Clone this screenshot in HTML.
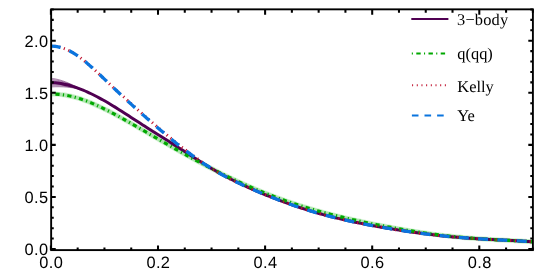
<!DOCTYPE html>
<html><head><meta charset="utf-8"><title>plot</title>
<style>html,body{margin:0;padding:0;background:#fff;overflow:hidden}svg{display:block}.sans{font-family:"Liberation Sans",sans-serif;font-size:16.4px;letter-spacing:0.4px;filter:grayscale(1);text-rendering:geometricPrecision}.serif{font-family:"Liberation Serif",serif;font-size:16.4px;filter:grayscale(1);text-rendering:geometricPrecision}</style>
</head><body>
<svg width="556" height="278" viewBox="0 0 556 278">
<rect width="556" height="278" fill="#fff"/>
<defs><clipPath id="c"><rect x="51.15" y="9.35" width="481.75" height="240.75"/></clipPath></defs>
<g clip-path="url(#c)" fill="none">
<path d="M51.10 78.33 C51.77 78.42 53.77 78.60 55.10 78.84 C56.43 79.07 57.77 79.39 59.10 79.75 C60.43 80.10 61.77 80.52 63.10 80.98 C64.43 81.44 65.77 81.94 67.10 82.48 C68.43 83.01 69.77 83.59 71.10 84.20 C72.43 84.80 73.77 85.43 75.10 86.08 C76.43 86.73 77.77 87.41 79.10 88.09 C80.43 88.76 81.77 89.48 83.10 90.12 C84.43 90.75 86.43 91.60 87.10 91.89" stroke="#500052" stroke-opacity="0.46" stroke-width="1.0"/>
<path d="M51.10 79.41 C51.77 79.48 53.77 79.63 55.10 79.83 C56.43 80.03 57.77 80.31 59.10 80.62 C60.43 80.94 61.77 81.31 63.10 81.72 C64.43 82.12 65.77 82.58 67.10 83.06 C68.43 83.55 69.77 84.07 71.10 84.62 C72.43 85.17 73.77 85.76 75.10 86.36 C76.43 86.95 77.77 87.59 79.10 88.22 C80.43 88.84 81.77 89.52 83.10 90.13 C84.43 90.75 86.43 91.60 87.10 91.89" stroke="#500052" stroke-opacity="0.46" stroke-width="1.0"/>
<path d="M51.10 80.48 C51.77 80.54 53.77 80.65 55.10 80.82 C56.43 80.99 57.77 81.23 59.10 81.50 C60.43 81.77 61.77 82.09 63.10 82.45 C64.43 82.81 65.77 83.21 67.10 83.65 C68.43 84.08 69.77 84.55 71.10 85.05 C72.43 85.55 73.77 86.08 75.10 86.63 C76.43 87.18 77.77 87.76 79.10 88.34 C80.43 88.93 81.77 89.56 83.10 90.15 C84.43 90.74 86.43 91.60 87.10 91.89" stroke="#500052" stroke-opacity="0.46" stroke-width="1.0"/>
<path d="M51.10 81.56 C51.77 81.60 53.77 81.68 55.10 81.81 C56.43 81.95 57.77 82.14 59.10 82.37 C60.43 82.60 61.77 82.88 63.10 83.19 C64.43 83.50 65.77 83.85 67.10 84.23 C68.43 84.61 69.77 85.03 71.10 85.48 C72.43 85.92 73.77 86.40 75.10 86.90 C76.43 87.40 77.77 87.93 79.10 88.47 C80.43 89.02 81.77 89.59 83.10 90.16 C84.43 90.73 86.43 91.61 87.10 91.89" stroke="#500052" stroke-opacity="0.46" stroke-width="1.0"/>
<path d="M51.10 82.63 C51.77 82.66 53.77 82.70 55.10 82.81 C56.43 82.91 57.77 83.06 59.10 83.25 C60.43 83.43 61.77 83.66 63.10 83.92 C64.43 84.19 65.77 84.49 67.10 84.82 C68.43 85.15 69.77 85.51 71.10 85.91 C72.43 86.30 73.77 86.72 75.10 87.17 C76.43 87.62 77.77 88.10 79.10 88.60 C80.43 89.10 81.77 89.63 83.10 90.18 C84.43 90.73 86.43 91.61 87.10 91.89" stroke="#500052" stroke-opacity="0.46" stroke-width="1.0"/>
<path d="M51.10 83.71 C51.77 83.72 53.77 83.73 55.10 83.80 C56.43 83.87 57.77 83.98 59.10 84.12 C60.43 84.26 61.77 84.45 63.10 84.66 C64.43 84.87 65.77 85.12 67.10 85.40 C68.43 85.68 69.77 85.99 71.10 86.33 C72.43 86.67 73.77 87.05 75.10 87.44 C76.43 87.84 77.77 88.27 79.10 88.73 C80.43 89.19 81.77 89.67 83.10 90.19 C84.43 90.72 86.43 91.61 87.10 91.89" stroke="#500052" stroke-opacity="0.46" stroke-width="1.0"/>
<path d="M51.10 84.78 C51.77 84.78 53.77 84.76 55.10 84.79 C56.43 84.83 57.77 84.89 59.10 84.99 C60.43 85.09 61.77 85.23 63.10 85.40 C64.43 85.56 65.77 85.76 67.10 85.99 C68.43 86.21 69.77 86.47 71.10 86.76 C72.43 87.05 73.77 87.37 75.10 87.72 C76.43 88.07 77.77 88.44 79.10 88.86 C80.43 89.27 81.77 89.70 83.10 90.21 C84.43 90.71 86.43 91.61 87.10 91.89" stroke="#500052" stroke-opacity="0.46" stroke-width="1.0"/>
<path d="M51.10 85.86 C51.77 85.84 53.77 85.78 55.10 85.78 C56.43 85.79 57.77 85.81 59.10 85.87 C60.43 85.93 61.77 86.01 63.10 86.13 C64.43 86.25 65.77 86.39 67.10 86.57 C68.43 86.75 69.77 86.95 71.10 87.19 C72.43 87.43 73.77 87.69 75.10 87.99 C76.43 88.29 77.77 88.61 79.10 88.99 C80.43 89.36 81.77 89.74 83.10 90.22 C84.43 90.71 86.43 91.62 87.10 91.89" stroke="#500052" stroke-opacity="0.46" stroke-width="1.0"/>
<path d="M51.10 86.93 C51.77 86.91 53.77 86.81 55.10 86.78 C56.43 86.75 57.77 86.73 59.10 86.74 C60.43 86.76 61.77 86.80 63.10 86.87 C64.43 86.94 65.77 87.03 67.10 87.16 C68.43 87.28 69.77 87.43 71.10 87.62 C72.43 87.80 73.77 88.01 75.10 88.26 C76.43 88.51 77.77 88.78 79.10 89.11 C80.43 89.44 81.77 89.78 83.10 90.24 C84.43 90.70 86.43 91.62 87.10 91.89" stroke="#500052" stroke-opacity="0.46" stroke-width="1.0"/>
<path d="M51.10 94.02 C51.77 94.03 53.77 94.04 55.10 94.10 C56.43 94.15 57.77 94.25 59.10 94.37 C60.43 94.49 61.77 94.64 63.10 94.83 C64.43 95.01 65.77 95.23 67.10 95.47 C68.43 95.72 69.77 96.00 71.10 96.30 C72.43 96.61 73.77 96.94 75.10 97.31 C76.43 97.67 77.77 98.06 79.10 98.48 C80.43 98.89 81.77 99.34 83.10 99.80 C84.43 100.27 85.77 100.76 87.10 101.27 C88.43 101.78 89.77 102.32 91.10 102.87 C92.43 103.43 93.77 104.00 95.10 104.59 C96.43 105.18 97.77 105.79 99.10 106.41 C100.43 107.03 101.77 107.67 103.10 108.32 C104.43 108.98 105.77 109.64 107.10 110.32 C108.43 110.99 109.77 111.68 111.10 112.38 C112.43 113.08 113.77 113.79 115.10 114.50 C116.43 115.22 117.77 115.94 119.10 116.67 C120.43 117.40 121.77 118.14 123.10 118.89 C124.43 119.63 125.77 120.38 127.10 121.13 C128.43 121.88 129.77 122.64 131.10 123.40 C132.43 124.16 133.77 124.93 135.10 125.70 C136.43 126.46 137.77 127.23 139.10 128.00 C140.43 128.77 141.77 129.54 143.10 130.32 C144.43 131.09 145.77 131.86 147.10 132.64 C148.43 133.41 149.77 134.18 151.10 134.96 C152.43 135.73 153.77 136.50 155.10 137.28 C156.43 138.05 157.77 138.82 159.10 139.59 C160.43 140.36 161.77 141.13 163.10 141.90 C164.43 142.66 165.77 143.43 167.10 144.20 C168.43 144.96 169.77 145.72 171.10 146.48 C172.43 147.24 173.77 148.00 175.10 148.76 C176.43 149.51 177.77 150.27 179.10 151.02 C180.43 151.77 181.77 152.51 183.10 153.26 C184.43 154.00 185.77 154.74 187.10 155.48 C188.43 156.22 189.77 156.95 191.10 157.68 C192.43 158.41 193.77 159.14 195.10 159.86 C196.43 160.58 197.77 161.30 199.10 162.02 C200.43 162.73 201.77 163.44 203.10 164.15 C204.43 164.85 205.77 165.55 207.10 166.25 C208.43 166.95 209.77 167.64 211.10 168.33 C212.43 169.01 213.77 169.69 215.10 170.37 C216.43 171.05 217.77 171.72 219.10 172.39 C220.43 173.05 221.77 173.72 223.10 174.37 C224.43 175.03 225.77 175.68 227.10 176.32 C228.43 176.97 229.77 177.61 231.10 178.24 C232.43 178.87 233.77 179.50 235.10 180.12 C236.43 180.75 237.77 181.36 239.10 181.97 C240.43 182.58 241.77 183.19 243.10 183.79 C244.43 184.38 245.77 184.98 247.10 185.56 C248.43 186.15 249.77 186.73 251.10 187.30 C252.43 187.88 253.77 188.44 255.10 189.01 C256.43 189.57 257.77 190.12 259.10 190.67 C260.43 191.22 261.77 191.76 263.10 192.30 C264.43 192.84 265.77 193.37 267.10 193.89 C268.43 194.41 269.77 194.93 271.10 195.44 C272.43 195.95 273.77 196.46 275.10 196.96 C276.43 197.46 277.77 197.95 279.10 198.44 C280.43 198.92 281.77 199.40 283.10 199.88 C284.43 200.35 285.77 200.82 287.10 201.28 C288.43 201.74 289.77 202.20 291.10 202.65 C292.43 203.10 293.77 203.54 295.10 203.98 C296.43 204.41 297.77 204.85 299.10 205.27 C300.43 205.70 301.77 206.12 303.10 206.53 C304.43 206.95 305.77 207.35 307.10 207.76 C308.43 208.16 309.77 208.56 311.10 208.95 C312.43 209.34 313.77 209.73 315.10 210.11 C316.43 210.49 317.77 210.87 319.10 211.24 C320.43 211.61 321.77 211.97 323.10 212.33 C324.43 212.69 325.77 213.05 327.10 213.40 C328.43 213.75 329.77 214.10 331.10 214.44 C332.43 214.78 333.77 215.12 335.10 215.45 C336.43 215.79 337.77 216.11 339.10 216.44 C340.43 216.76 341.77 217.09 343.10 217.40 C344.43 217.72 345.77 218.03 347.10 218.34 C348.43 218.65 349.77 218.96 351.10 219.26 C352.43 219.56 353.77 219.86 355.10 220.16 C356.43 220.45 357.77 220.75 359.10 221.04 C360.43 221.32 361.77 221.61 363.10 221.89 C364.43 222.18 365.77 222.46 367.10 222.73 C368.43 223.01 369.77 223.28 371.10 223.56 C372.43 223.83 373.77 224.10 375.10 224.36 C376.43 224.63 377.77 224.89 379.10 225.15 C380.43 225.41 381.77 225.67 383.10 225.92 C384.43 226.17 385.77 226.43 387.10 226.68 C388.43 226.92 389.77 227.17 391.10 227.41 C392.43 227.66 393.77 227.90 395.10 228.14 C396.43 228.38 397.77 228.61 399.10 228.84 C400.43 229.08 401.77 229.31 403.10 229.53 C404.43 229.76 405.77 229.98 407.10 230.21 C408.43 230.43 409.77 230.65 411.10 230.86 C412.43 231.08 413.77 231.29 415.10 231.50 C416.43 231.71 417.77 231.91 419.10 232.12 C420.43 232.32 421.77 232.52 423.10 232.72 C424.43 232.91 425.77 233.11 427.10 233.30 C428.43 233.49 429.77 233.67 431.10 233.86 C432.43 234.04 433.77 234.22 435.10 234.39 C436.43 234.57 437.77 234.74 439.10 234.91 C440.43 235.07 441.77 235.24 443.10 235.39 C444.43 235.55 445.77 235.71 447.10 235.86 C448.43 236.01 449.77 236.16 451.10 236.30 C452.43 236.44 453.77 236.58 455.10 236.72 C456.43 236.85 457.77 236.98 459.10 237.11 C460.43 237.23 461.77 237.35 463.10 237.47 C464.43 237.59 465.77 237.71 467.10 237.82 C468.43 237.93 469.77 238.03 471.10 238.14 C472.43 238.24 473.77 238.34 475.10 238.44 C476.43 238.53 477.77 238.63 479.10 238.72 C480.43 238.81 481.77 238.89 483.10 238.98 C484.43 239.06 485.77 239.15 487.10 239.23 C488.43 239.31 489.77 239.38 491.10 239.46 C492.43 239.53 493.77 239.61 495.10 239.68 C496.43 239.75 497.77 239.82 499.10 239.89 C500.43 239.96 501.77 240.03 503.10 240.10 C504.43 240.17 505.77 240.24 507.10 240.31 C508.43 240.38 509.77 240.45 511.10 240.52 C512.43 240.59 513.77 240.66 515.10 240.73 C516.43 240.80 517.77 240.87 519.10 240.95 C520.43 241.03 521.77 241.10 523.10 241.19 C524.43 241.27 525.77 241.35 527.10 241.44 C528.43 241.53 530.13 241.65 531.10 241.72 C532.07 241.78 532.60 241.83 532.90 241.85" stroke="#7fd67f" stroke-opacity="0.35" stroke-width="5"/>
<path d="M51.10 94.02 C51.77 94.03 53.77 94.04 55.10 94.10 C56.43 94.15 57.77 94.25 59.10 94.37 C60.43 94.49 61.77 94.64 63.10 94.83 C64.43 95.01 65.77 95.23 67.10 95.47 C68.43 95.72 69.77 96.00 71.10 96.30 C72.43 96.61 73.77 96.94 75.10 97.31 C76.43 97.67 77.77 98.06 79.10 98.48 C80.43 98.89 81.77 99.34 83.10 99.80 C84.43 100.27 85.77 100.76 87.10 101.27 C88.43 101.78 89.77 102.32 91.10 102.87 C92.43 103.43 93.77 104.00 95.10 104.59 C96.43 105.18 97.77 105.79 99.10 106.41 C100.43 107.03 101.77 107.67 103.10 108.32 C104.43 108.98 105.77 109.64 107.10 110.32 C108.43 110.99 109.77 111.68 111.10 112.38 C112.43 113.08 113.77 113.79 115.10 114.50 C116.43 115.22 117.77 115.94 119.10 116.67 C120.43 117.40 121.77 118.14 123.10 118.89 C124.43 119.63 125.77 120.38 127.10 121.13 C128.43 121.88 129.77 122.64 131.10 123.40 C132.43 124.16 133.77 124.93 135.10 125.70 C136.43 126.46 137.77 127.23 139.10 128.00 C140.43 128.77 141.77 129.54 143.10 130.32 C144.43 131.09 145.77 131.86 147.10 132.64 C148.43 133.41 149.77 134.18 151.10 134.96 C152.43 135.73 153.77 136.50 155.10 137.28 C156.43 138.05 157.77 138.82 159.10 139.59 C160.43 140.36 161.77 141.13 163.10 141.90 C164.43 142.66 165.77 143.43 167.10 144.20 C168.43 144.96 169.77 145.72 171.10 146.48 C172.43 147.24 173.77 148.00 175.10 148.76 C176.43 149.51 177.77 150.27 179.10 151.02 C180.43 151.77 181.77 152.51 183.10 153.26 C184.43 154.00 185.77 154.74 187.10 155.48 C188.43 156.22 189.77 156.95 191.10 157.68 C192.43 158.41 193.77 159.14 195.10 159.86 C196.43 160.58 197.77 161.30 199.10 162.02 C200.43 162.73 201.77 163.44 203.10 164.15 C204.43 164.85 205.77 165.55 207.10 166.25 C208.43 166.95 209.77 167.64 211.10 168.33 C212.43 169.01 213.77 169.69 215.10 170.37 C216.43 171.05 217.77 171.72 219.10 172.39 C220.43 173.05 221.77 173.72 223.10 174.37 C224.43 175.03 225.77 175.68 227.10 176.32 C228.43 176.97 229.77 177.61 231.10 178.24 C232.43 178.87 233.77 179.50 235.10 180.12 C236.43 180.75 237.77 181.36 239.10 181.97 C240.43 182.58 241.77 183.19 243.10 183.79 C244.43 184.38 245.77 184.98 247.10 185.56 C248.43 186.15 249.77 186.73 251.10 187.30 C252.43 187.88 253.77 188.44 255.10 189.01 C256.43 189.57 257.77 190.12 259.10 190.67 C260.43 191.22 261.77 191.76 263.10 192.30 C264.43 192.84 265.77 193.37 267.10 193.89 C268.43 194.41 269.77 194.93 271.10 195.44 C272.43 195.95 273.77 196.46 275.10 196.96 C276.43 197.46 277.77 197.95 279.10 198.44 C280.43 198.92 281.77 199.40 283.10 199.88 C284.43 200.35 285.77 200.82 287.10 201.28 C288.43 201.74 289.77 202.20 291.10 202.65 C292.43 203.10 293.77 203.54 295.10 203.98 C296.43 204.41 297.77 204.85 299.10 205.27 C300.43 205.70 301.77 206.12 303.10 206.53 C304.43 206.95 305.77 207.35 307.10 207.76 C308.43 208.16 309.77 208.56 311.10 208.95 C312.43 209.34 313.77 209.73 315.10 210.11 C316.43 210.49 317.77 210.87 319.10 211.24 C320.43 211.61 321.77 211.97 323.10 212.33 C324.43 212.69 325.77 213.05 327.10 213.40 C328.43 213.75 329.77 214.10 331.10 214.44 C332.43 214.78 333.77 215.12 335.10 215.45 C336.43 215.79 337.77 216.11 339.10 216.44 C340.43 216.76 341.77 217.09 343.10 217.40 C344.43 217.72 345.77 218.03 347.10 218.34 C348.43 218.65 349.77 218.96 351.10 219.26 C352.43 219.56 353.77 219.86 355.10 220.16 C356.43 220.45 357.77 220.75 359.10 221.04 C360.43 221.32 361.77 221.61 363.10 221.89 C364.43 222.18 365.77 222.46 367.10 222.73 C368.43 223.01 369.77 223.28 371.10 223.56 C372.43 223.83 373.77 224.10 375.10 224.36 C376.43 224.63 377.77 224.89 379.10 225.15 C380.43 225.41 381.77 225.67 383.10 225.92 C384.43 226.17 385.77 226.43 387.10 226.68 C388.43 226.92 389.77 227.17 391.10 227.41 C392.43 227.66 393.77 227.90 395.10 228.14 C396.43 228.38 397.77 228.61 399.10 228.84 C400.43 229.08 401.77 229.31 403.10 229.53 C404.43 229.76 405.77 229.98 407.10 230.21 C408.43 230.43 409.77 230.65 411.10 230.86 C412.43 231.08 413.77 231.29 415.10 231.50 C416.43 231.71 417.77 231.91 419.10 232.12 C420.43 232.32 421.77 232.52 423.10 232.72 C424.43 232.91 425.77 233.11 427.10 233.30 C428.43 233.49 429.77 233.67 431.10 233.86 C432.43 234.04 433.77 234.22 435.10 234.39 C436.43 234.57 437.77 234.74 439.10 234.91 C440.43 235.07 441.77 235.24 443.10 235.39 C444.43 235.55 445.77 235.71 447.10 235.86 C448.43 236.01 449.77 236.16 451.10 236.30 C452.43 236.44 453.77 236.58 455.10 236.72 C456.43 236.85 457.77 236.98 459.10 237.11 C460.43 237.23 461.77 237.35 463.10 237.47 C464.43 237.59 465.77 237.71 467.10 237.82 C468.43 237.93 469.77 238.03 471.10 238.14 C472.43 238.24 473.77 238.34 475.10 238.44 C476.43 238.53 477.77 238.63 479.10 238.72 C480.43 238.81 481.77 238.89 483.10 238.98 C484.43 239.06 485.77 239.15 487.10 239.23 C488.43 239.31 489.77 239.38 491.10 239.46 C492.43 239.53 493.77 239.61 495.10 239.68 C496.43 239.75 497.77 239.82 499.10 239.89 C500.43 239.96 501.77 240.03 503.10 240.10 C504.43 240.17 505.77 240.24 507.10 240.31 C508.43 240.38 509.77 240.45 511.10 240.52 C512.43 240.59 513.77 240.66 515.10 240.73 C516.43 240.80 517.77 240.87 519.10 240.95 C520.43 241.03 521.77 241.10 523.10 241.19 C524.43 241.27 525.77 241.35 527.10 241.44 C528.43 241.53 530.13 241.65 531.10 241.72 C532.07 241.78 532.60 241.83 532.90 241.85" stroke="#7fd67f" stroke-opacity="0.45" stroke-width="3.4"/>
<path d="M51.10 82.63 C51.77 82.66 53.77 82.70 55.10 82.81 C56.43 82.91 57.77 83.06 59.10 83.25 C60.43 83.43 61.77 83.66 63.10 83.92 C64.43 84.19 65.77 84.49 67.10 84.82 C68.43 85.15 69.77 85.51 71.10 85.91 C72.43 86.30 73.77 86.72 75.10 87.17 C76.43 87.62 77.77 88.10 79.10 88.60 C80.43 89.10 81.77 89.63 83.10 90.18 C84.43 90.73 85.77 91.30 87.10 91.89 C88.43 92.49 89.77 93.11 91.10 93.74 C92.43 94.38 93.77 95.04 95.10 95.72 C96.43 96.40 97.77 97.10 99.10 97.81 C100.43 98.53 101.77 99.26 103.10 100.01 C104.43 100.76 105.77 101.53 107.10 102.30 C108.43 103.08 109.77 103.88 111.10 104.69 C112.43 105.49 113.77 106.31 115.10 107.14 C116.43 107.97 117.77 108.81 119.10 109.65 C120.43 110.50 121.77 111.35 123.10 112.21 C124.43 113.06 125.77 113.93 127.10 114.79 C128.43 115.66 129.77 116.52 131.10 117.39 C132.43 118.26 133.77 119.12 135.10 119.99 C136.43 120.85 137.77 121.72 139.10 122.58 C140.43 123.44 141.77 124.30 143.10 125.15 C144.43 126.01 145.77 126.86 147.10 127.71 C148.43 128.56 149.77 129.41 151.10 130.25 C152.43 131.10 153.77 131.94 155.10 132.78 C156.43 133.62 157.77 134.46 159.10 135.29 C160.43 136.13 161.77 136.97 163.10 137.81 C164.43 138.65 165.77 139.49 167.10 140.33 C168.43 141.17 169.77 142.02 171.10 142.86 C172.43 143.71 173.77 144.56 175.10 145.41 C176.43 146.27 177.77 147.12 179.10 147.98 C180.43 148.84 181.77 149.70 183.10 150.56 C184.43 151.42 185.77 152.28 187.10 153.14 C188.43 154.00 189.77 154.86 191.10 155.72 C192.43 156.58 193.77 157.44 195.10 158.29 C196.43 159.14 197.77 159.99 199.10 160.84 C200.43 161.68 201.77 162.51 203.10 163.34 C204.43 164.17 205.77 164.99 207.10 165.80 C208.43 166.61 209.77 167.42 211.10 168.21 C212.43 169.00 213.77 169.78 215.10 170.55 C216.43 171.32 217.77 172.08 219.10 172.83 C220.43 173.58 221.77 174.32 223.10 175.05 C224.43 175.77 225.77 176.49 227.10 177.19 C228.43 177.89 229.77 178.58 231.10 179.26 C232.43 179.94 233.77 180.61 235.10 181.27 C236.43 181.93 237.77 182.58 239.10 183.22 C240.43 183.86 241.77 184.49 243.10 185.11 C244.43 185.73 245.77 186.35 247.10 186.95 C248.43 187.56 249.77 188.15 251.10 188.74 C252.43 189.33 253.77 189.91 255.10 190.49 C256.43 191.07 257.77 191.63 259.10 192.20 C260.43 192.76 261.77 193.31 263.10 193.86 C264.43 194.41 265.77 194.96 267.10 195.50 C268.43 196.03 269.77 196.57 271.10 197.09 C272.43 197.62 273.77 198.14 275.10 198.66 C276.43 199.17 277.77 199.68 279.10 200.19 C280.43 200.69 281.77 201.19 283.10 201.68 C284.43 202.18 285.77 202.66 287.10 203.15 C288.43 203.63 289.77 204.10 291.10 204.57 C292.43 205.04 293.77 205.50 295.10 205.96 C296.43 206.42 297.77 206.87 299.10 207.31 C300.43 207.76 301.77 208.19 303.10 208.63 C304.43 209.06 305.77 209.48 307.10 209.90 C308.43 210.31 309.77 210.72 311.10 211.13 C312.43 211.53 313.77 211.93 315.10 212.32 C316.43 212.71 317.77 213.09 319.10 213.47 C320.43 213.84 321.77 214.21 323.10 214.58 C324.43 214.94 325.77 215.30 327.10 215.65 C328.43 216.00 329.77 216.34 331.10 216.68 C332.43 217.02 333.77 217.35 335.10 217.67 C336.43 218.00 337.77 218.32 339.10 218.64 C340.43 218.95 341.77 219.26 343.10 219.57 C344.43 219.87 345.77 220.17 347.10 220.47 C348.43 220.77 349.77 221.06 351.10 221.34 C352.43 221.63 353.77 221.91 355.10 222.19 C356.43 222.47 357.77 222.74 359.10 223.01 C360.43 223.28 361.77 223.55 363.10 223.81 C364.43 224.07 365.77 224.33 367.10 224.59 C368.43 224.84 369.77 225.10 371.10 225.34 C372.43 225.59 373.77 225.84 375.10 226.08 C376.43 226.32 377.77 226.56 379.10 226.80 C380.43 227.03 381.77 227.27 383.10 227.50 C384.43 227.73 385.77 227.95 387.10 228.18 C388.43 228.40 389.77 228.62 391.10 228.84 C392.43 229.06 393.77 229.28 395.10 229.49 C396.43 229.70 397.77 229.92 399.10 230.12 C400.43 230.33 401.77 230.54 403.10 230.74 C404.43 230.94 405.77 231.14 407.10 231.34 C408.43 231.53 409.77 231.73 411.10 231.92 C412.43 232.11 413.77 232.30 415.10 232.49 C416.43 232.67 417.77 232.85 419.10 233.03 C420.43 233.21 421.77 233.39 423.10 233.56 C424.43 233.74 425.77 233.91 427.10 234.08 C428.43 234.25 429.77 234.41 431.10 234.57 C432.43 234.73 433.77 234.89 435.10 235.04 C436.43 235.20 437.77 235.35 439.10 235.50 C440.43 235.64 441.77 235.79 443.10 235.93 C444.43 236.07 445.77 236.20 447.10 236.33 C448.43 236.47 449.77 236.59 451.10 236.72 C452.43 236.84 453.77 236.97 455.10 237.08 C456.43 237.20 457.77 237.31 459.10 237.42 C460.43 237.53 461.77 237.64 463.10 237.74 C464.43 237.85 465.77 237.95 467.10 238.04 C468.43 238.14 469.77 238.23 471.10 238.32 C472.43 238.41 473.77 238.50 475.10 238.58 C476.43 238.67 477.77 238.75 479.10 238.83 C480.43 238.91 481.77 238.98 483.10 239.06 C484.43 239.13 485.77 239.21 487.10 239.28 C488.43 239.35 489.77 239.42 491.10 239.48 C492.43 239.55 493.77 239.62 495.10 239.68 C496.43 239.75 497.77 239.82 499.10 239.88 C500.43 239.95 501.77 240.01 503.10 240.08 C504.43 240.14 505.77 240.21 507.10 240.27 C508.43 240.34 509.77 240.41 511.10 240.47 C512.43 240.54 513.77 240.61 515.10 240.69 C516.43 240.76 517.77 240.83 519.10 240.91 C520.43 240.99 521.77 241.07 523.10 241.16 C524.43 241.24 525.77 241.33 527.10 241.43 C528.43 241.52 530.13 241.65 531.10 241.72 C532.07 241.80 532.60 241.84 532.90 241.87" stroke="#500052" stroke-width="3"/>
<path d="M51.10 94.02 C51.77 94.03 53.77 94.04 55.10 94.10 C56.43 94.15 57.77 94.25 59.10 94.37 C60.43 94.49 61.77 94.64 63.10 94.83 C64.43 95.01 65.77 95.23 67.10 95.47 C68.43 95.72 69.77 96.00 71.10 96.30 C72.43 96.61 73.77 96.94 75.10 97.31 C76.43 97.67 77.77 98.06 79.10 98.48 C80.43 98.89 81.77 99.34 83.10 99.80 C84.43 100.27 85.77 100.76 87.10 101.27 C88.43 101.78 89.77 102.32 91.10 102.87 C92.43 103.43 93.77 104.00 95.10 104.59 C96.43 105.18 97.77 105.79 99.10 106.41 C100.43 107.03 101.77 107.67 103.10 108.32 C104.43 108.98 105.77 109.64 107.10 110.32 C108.43 110.99 109.77 111.68 111.10 112.38 C112.43 113.08 113.77 113.79 115.10 114.50 C116.43 115.22 117.77 115.94 119.10 116.67 C120.43 117.40 121.77 118.14 123.10 118.89 C124.43 119.63 125.77 120.38 127.10 121.13 C128.43 121.88 129.77 122.64 131.10 123.40 C132.43 124.16 133.77 124.93 135.10 125.70 C136.43 126.46 137.77 127.23 139.10 128.00 C140.43 128.77 141.77 129.54 143.10 130.32 C144.43 131.09 145.77 131.86 147.10 132.64 C148.43 133.41 149.77 134.18 151.10 134.96 C152.43 135.73 153.77 136.50 155.10 137.28 C156.43 138.05 157.77 138.82 159.10 139.59 C160.43 140.36 161.77 141.13 163.10 141.90 C164.43 142.66 165.77 143.43 167.10 144.20 C168.43 144.96 169.77 145.72 171.10 146.48 C172.43 147.24 173.77 148.00 175.10 148.76 C176.43 149.51 177.77 150.27 179.10 151.02 C180.43 151.77 181.77 152.51 183.10 153.26 C184.43 154.00 185.77 154.74 187.10 155.48 C188.43 156.22 189.77 156.95 191.10 157.68 C192.43 158.41 193.77 159.14 195.10 159.86 C196.43 160.58 197.77 161.30 199.10 162.02 C200.43 162.73 201.77 163.44 203.10 164.15 C204.43 164.85 205.77 165.55 207.10 166.25 C208.43 166.95 209.77 167.64 211.10 168.33 C212.43 169.01 213.77 169.69 215.10 170.37 C216.43 171.05 217.77 171.72 219.10 172.39 C220.43 173.05 221.77 173.72 223.10 174.37 C224.43 175.03 225.77 175.68 227.10 176.32 C228.43 176.97 229.77 177.61 231.10 178.24 C232.43 178.87 233.77 179.50 235.10 180.12 C236.43 180.75 237.77 181.36 239.10 181.97 C240.43 182.58 241.77 183.19 243.10 183.79 C244.43 184.38 245.77 184.98 247.10 185.56 C248.43 186.15 249.77 186.73 251.10 187.30 C252.43 187.88 253.77 188.44 255.10 189.01 C256.43 189.57 257.77 190.12 259.10 190.67 C260.43 191.22 261.77 191.76 263.10 192.30 C264.43 192.84 265.77 193.37 267.10 193.89 C268.43 194.41 269.77 194.93 271.10 195.44 C272.43 195.95 273.77 196.46 275.10 196.96 C276.43 197.46 277.77 197.95 279.10 198.44 C280.43 198.92 281.77 199.40 283.10 199.88 C284.43 200.35 285.77 200.82 287.10 201.28 C288.43 201.74 289.77 202.20 291.10 202.65 C292.43 203.10 293.77 203.54 295.10 203.98 C296.43 204.41 297.77 204.85 299.10 205.27 C300.43 205.70 301.77 206.12 303.10 206.53 C304.43 206.95 305.77 207.35 307.10 207.76 C308.43 208.16 309.77 208.56 311.10 208.95 C312.43 209.34 313.77 209.73 315.10 210.11 C316.43 210.49 317.77 210.87 319.10 211.24 C320.43 211.61 321.77 211.97 323.10 212.33 C324.43 212.69 325.77 213.05 327.10 213.40 C328.43 213.75 329.77 214.10 331.10 214.44 C332.43 214.78 333.77 215.12 335.10 215.45 C336.43 215.79 337.77 216.11 339.10 216.44 C340.43 216.76 341.77 217.09 343.10 217.40 C344.43 217.72 345.77 218.03 347.10 218.34 C348.43 218.65 349.77 218.96 351.10 219.26 C352.43 219.56 353.77 219.86 355.10 220.16 C356.43 220.45 357.77 220.75 359.10 221.04 C360.43 221.32 361.77 221.61 363.10 221.89 C364.43 222.18 365.77 222.46 367.10 222.73 C368.43 223.01 369.77 223.28 371.10 223.56 C372.43 223.83 373.77 224.10 375.10 224.36 C376.43 224.63 377.77 224.89 379.10 225.15 C380.43 225.41 381.77 225.67 383.10 225.92 C384.43 226.17 385.77 226.43 387.10 226.68 C388.43 226.92 389.77 227.17 391.10 227.41 C392.43 227.66 393.77 227.90 395.10 228.14 C396.43 228.38 397.77 228.61 399.10 228.84 C400.43 229.08 401.77 229.31 403.10 229.53 C404.43 229.76 405.77 229.98 407.10 230.21 C408.43 230.43 409.77 230.65 411.10 230.86 C412.43 231.08 413.77 231.29 415.10 231.50 C416.43 231.71 417.77 231.91 419.10 232.12 C420.43 232.32 421.77 232.52 423.10 232.72 C424.43 232.91 425.77 233.11 427.10 233.30 C428.43 233.49 429.77 233.67 431.10 233.86 C432.43 234.04 433.77 234.22 435.10 234.39 C436.43 234.57 437.77 234.74 439.10 234.91 C440.43 235.07 441.77 235.24 443.10 235.39 C444.43 235.55 445.77 235.71 447.10 235.86 C448.43 236.01 449.77 236.16 451.10 236.30 C452.43 236.44 453.77 236.58 455.10 236.72 C456.43 236.85 457.77 236.98 459.10 237.11 C460.43 237.23 461.77 237.35 463.10 237.47 C464.43 237.59 465.77 237.71 467.10 237.82 C468.43 237.93 469.77 238.03 471.10 238.14 C472.43 238.24 473.77 238.34 475.10 238.44 C476.43 238.53 477.77 238.63 479.10 238.72 C480.43 238.81 481.77 238.89 483.10 238.98 C484.43 239.06 485.77 239.15 487.10 239.23 C488.43 239.31 489.77 239.38 491.10 239.46 C492.43 239.53 493.77 239.61 495.10 239.68 C496.43 239.75 497.77 239.82 499.10 239.89 C500.43 239.96 501.77 240.03 503.10 240.10 C504.43 240.17 505.77 240.24 507.10 240.31 C508.43 240.38 509.77 240.45 511.10 240.52 C512.43 240.59 513.77 240.66 515.10 240.73 C516.43 240.80 517.77 240.87 519.10 240.95 C520.43 241.03 521.77 241.10 523.10 241.19 C524.43 241.27 525.77 241.35 527.10 241.44 C528.43 241.53 530.13 241.65 531.10 241.72 C532.07 241.78 532.60 241.83 532.90 241.85" stroke="#00a800" stroke-width="3.2" stroke-dasharray="1.2 3.3 4.2 3.3" stroke-dashoffset="0.2"/>
<path d="M51.10 46.11 C51.77 46.15 53.77 46.19 55.10 46.34 C56.43 46.49 57.77 46.72 59.10 47.02 C60.43 47.33 61.77 47.71 63.10 48.16 C64.43 48.61 65.77 49.14 67.10 49.74 C68.43 50.33 69.77 51.00 71.10 51.72 C72.43 52.45 73.77 53.25 75.10 54.10 C76.43 54.95 77.77 55.86 79.10 56.82 C80.43 57.79 81.77 58.80 83.10 59.86 C84.43 60.91 85.77 62.02 87.10 63.15 C88.43 64.28 89.77 65.46 91.10 66.65 C92.43 67.84 93.77 69.06 95.10 70.29 C96.43 71.52 97.77 72.78 99.10 74.04 C100.43 75.30 101.77 76.57 103.10 77.85 C104.43 79.12 105.77 80.40 107.10 81.68 C108.43 82.95 109.77 84.23 111.10 85.50 C112.43 86.77 113.77 88.04 115.10 89.30 C116.43 90.57 117.77 91.89 119.10 93.07 C120.43 94.25 121.77 95.23 123.10 96.39 C124.43 97.56 125.77 98.86 127.10 100.08 C128.43 101.30 129.77 102.52 131.10 103.73 C132.43 104.95 133.77 106.15 135.10 107.36 C136.43 108.56 137.77 109.76 139.10 110.95 C140.43 112.14 141.77 113.33 143.10 114.51 C144.43 115.70 145.77 116.88 147.10 118.05 C148.43 119.22 149.77 120.39 151.10 121.56 C152.43 122.72 153.77 123.88 155.10 125.04 C156.43 126.19 157.77 127.34 159.10 128.48 C160.43 129.63 161.77 130.76 163.10 131.89 C164.43 133.02 165.77 134.15 167.10 135.26 C168.43 136.38 169.77 137.48 171.10 138.58 C172.43 139.68 173.77 140.77 175.10 141.85 C176.43 142.93 177.77 144.01 179.10 145.06 C180.43 146.12 181.77 147.17 183.10 148.21 C184.43 149.24 185.77 150.27 187.10 151.28 C188.43 152.29 189.77 153.28 191.10 154.26 C192.43 155.24 193.77 156.21 195.10 157.16 C196.43 158.11 197.77 158.98 199.10 159.97 C200.43 160.96 201.77 162.13 203.10 163.08 C204.43 164.04 205.77 164.84 207.10 165.70 C208.43 166.56 209.77 167.40 211.10 168.22 C212.43 169.04 213.77 169.85 215.10 170.64 C216.43 171.43 217.77 172.21 219.10 172.97 C220.43 173.73 221.77 174.47 223.10 175.20 C224.43 175.94 225.77 176.65 227.10 177.35 C228.43 178.05 229.77 178.74 231.10 179.42 C232.43 180.09 233.77 180.75 235.10 181.41 C236.43 182.06 237.77 182.70 239.10 183.33 C240.43 183.96 241.77 184.58 243.10 185.19 C244.43 185.80 245.77 186.40 247.10 186.99 C248.43 187.59 249.77 188.17 251.10 188.75 C252.43 189.33 253.77 189.91 255.10 190.47 C256.43 191.04 257.77 191.60 259.10 192.16 C260.43 192.71 261.77 193.26 263.10 193.81 C264.43 194.35 265.77 194.89 267.10 195.43 C268.43 195.96 269.77 196.49 271.10 197.02 C272.43 197.54 273.77 198.07 275.10 198.58 C276.43 199.10 277.77 199.61 279.10 200.12 C280.43 200.63 281.77 201.13 283.10 201.63 C284.43 202.13 285.77 202.62 287.10 203.11 C288.43 203.59 289.77 204.07 291.10 204.55 C292.43 205.03 293.77 205.50 295.10 205.96 C296.43 206.42 297.77 206.88 299.10 207.33 C300.43 207.77 301.77 208.22 303.10 208.65 C304.43 209.08 305.77 209.51 307.10 209.93 C308.43 210.35 309.77 210.76 311.10 211.17 C312.43 211.57 313.77 211.97 315.10 212.36 C316.43 212.75 317.77 213.13 319.10 213.51 C320.43 213.88 321.77 214.25 323.10 214.61 C324.43 214.98 325.77 215.33 327.10 215.68 C328.43 216.03 329.77 216.37 331.10 216.71 C332.43 217.04 333.77 217.38 335.10 217.70 C336.43 218.02 337.77 218.34 339.10 218.66 C340.43 218.97 341.77 219.28 343.10 219.58 C344.43 219.88 345.77 220.18 347.10 220.48 C348.43 220.77 349.77 221.06 351.10 221.34 C352.43 221.63 353.77 221.91 355.10 222.18 C356.43 222.46 357.77 222.73 359.10 223.00 C360.43 223.26 361.77 223.53 363.10 223.79 C364.43 224.05 365.77 224.31 367.10 224.56 C368.43 224.82 369.77 225.07 371.10 225.31 C372.43 225.56 373.77 225.81 375.10 226.05 C376.43 226.29 377.77 226.53 379.10 226.77 C380.43 227.00 381.77 227.24 383.10 227.47 C384.43 227.70 385.77 227.93 387.10 228.15 C388.43 228.38 389.77 228.60 391.10 228.83 C392.43 229.05 393.77 229.26 395.10 229.48 C396.43 229.70 397.77 229.91 399.10 230.12 C400.43 230.33 401.77 230.54 403.10 230.74 C404.43 230.95 405.77 231.15 407.10 231.35 C408.43 231.55 409.77 231.75 411.10 231.94 C412.43 232.14 413.77 232.33 415.10 232.52 C416.43 232.70 417.77 232.89 419.10 233.07 C420.43 233.25 421.77 233.43 423.10 233.60 C424.43 233.78 425.77 233.95 427.10 234.12 C428.43 234.28 429.77 234.45 431.10 234.61 C432.43 234.77 433.77 234.92 435.10 235.07 C436.43 235.23 437.77 235.38 439.10 235.52 C440.43 235.66 441.77 235.81 443.10 235.94 C444.43 236.08 445.77 236.21 447.10 236.34 C448.43 236.47 449.77 236.60 451.10 236.72 C452.43 236.84 453.77 236.96 455.10 237.08 C456.43 237.19 457.77 237.30 459.10 237.41 C460.43 237.52 461.77 237.63 463.10 237.73 C464.43 237.83 465.77 237.93 467.10 238.02 C468.43 238.12 469.77 238.21 471.10 238.30 C472.43 238.39 473.77 238.48 475.10 238.56 C476.43 238.64 477.77 238.73 479.10 238.81 C480.43 238.89 481.77 238.96 483.10 239.04 C484.43 239.11 485.77 239.19 487.10 239.26 C488.43 239.33 489.77 239.40 491.10 239.47 C492.43 239.54 493.77 239.61 495.10 239.68 C496.43 239.75 497.77 239.81 499.10 239.88 C500.43 239.95 501.77 240.01 503.10 240.08 C504.43 240.15 505.77 240.21 507.10 240.28 C508.43 240.35 509.77 240.42 511.10 240.49 C512.43 240.56 513.77 240.63 515.10 240.70 C516.43 240.78 517.77 240.85 519.10 240.93 C520.43 241.01 521.77 241.09 523.10 241.18 C524.43 241.26 525.77 241.35 527.10 241.44 C528.43 241.53 530.13 241.66 531.10 241.73 C532.07 241.80 532.60 241.84 532.90 241.86" stroke="#c01430" stroke-width="3" stroke-dasharray="1.1 3.72" stroke-dashoffset="1.5"/>
<path d="M51.10 46.11 C51.77 46.15 53.77 46.19 55.10 46.34 C56.43 46.49 57.77 46.72 59.10 47.02 C60.43 47.33 61.77 47.71 63.10 48.16 C64.43 48.61 65.77 49.14 67.10 49.74 C68.43 50.33 69.77 51.00 71.10 51.72 C72.43 52.45 73.77 53.25 75.10 54.10 C76.43 54.95 77.77 55.86 79.10 56.82 C80.43 57.79 81.77 58.80 83.10 59.86 C84.43 60.91 85.77 62.02 87.10 63.15 C88.43 64.28 89.77 65.46 91.10 66.65 C92.43 67.84 93.77 69.06 95.10 70.29 C96.43 71.52 97.77 72.78 99.10 74.04 C100.43 75.30 101.77 76.57 103.10 77.85 C104.43 79.12 105.77 80.40 107.10 81.68 C108.43 82.95 109.77 84.23 111.10 85.50 C112.43 86.77 113.77 88.04 115.10 89.30 C116.43 90.57 117.77 91.82 119.10 93.07 C120.43 94.32 121.77 95.56 123.10 96.79 C124.43 98.03 125.77 99.26 127.10 100.48 C128.43 101.70 129.77 102.92 131.10 104.13 C132.43 105.35 133.77 106.55 135.10 107.76 C136.43 108.96 137.77 110.16 139.10 111.35 C140.43 112.54 141.77 113.73 143.10 114.91 C144.43 116.10 145.77 117.28 147.10 118.45 C148.43 119.62 149.77 120.79 151.10 121.96 C152.43 123.12 153.77 124.28 155.10 125.44 C156.43 126.59 157.77 127.74 159.10 128.88 C160.43 130.03 161.77 131.16 163.10 132.29 C164.43 133.42 165.77 134.55 167.10 135.66 C168.43 136.78 169.77 137.88 171.10 138.98 C172.43 140.08 173.77 141.17 175.10 142.25 C176.43 143.33 177.77 144.41 179.10 145.46 C180.43 146.52 181.77 147.57 183.10 148.61 C184.43 149.64 185.77 150.67 187.10 151.68 C188.43 152.69 189.77 153.68 191.10 154.66 C192.43 155.64 193.77 156.61 195.10 157.56 C196.43 158.51 197.77 159.45 199.10 160.37 C200.43 161.29 201.77 162.19 203.10 163.08 C204.43 163.97 205.77 164.84 207.10 165.70 C208.43 166.56 209.77 167.40 211.10 168.22 C212.43 169.04 213.77 169.85 215.10 170.64 C216.43 171.43 217.77 172.21 219.10 172.97 C220.43 173.73 221.77 174.47 223.10 175.20 C224.43 175.94 225.77 176.65 227.10 177.35 C228.43 178.05 229.77 178.74 231.10 179.42 C232.43 180.09 233.77 180.75 235.10 181.41 C236.43 182.06 237.77 182.70 239.10 183.33 C240.43 183.96 241.77 184.58 243.10 185.19 C244.43 185.80 245.77 186.40 247.10 186.99 C248.43 187.59 249.77 188.17 251.10 188.75 C252.43 189.33 253.77 189.91 255.10 190.47 C256.43 191.04 257.77 191.60 259.10 192.16 C260.43 192.71 261.77 193.26 263.10 193.81 C264.43 194.35 265.77 194.89 267.10 195.43 C268.43 195.96 269.77 196.49 271.10 197.02 C272.43 197.54 273.77 198.07 275.10 198.58 C276.43 199.10 277.77 199.61 279.10 200.12 C280.43 200.63 281.77 201.13 283.10 201.63 C284.43 202.13 285.77 202.62 287.10 203.11 C288.43 203.59 289.77 204.07 291.10 204.55 C292.43 205.03 293.77 205.50 295.10 205.96 C296.43 206.42 297.77 206.88 299.10 207.33 C300.43 207.77 301.77 208.22 303.10 208.65 C304.43 209.08 305.77 209.51 307.10 209.93 C308.43 210.35 309.77 210.76 311.10 211.17 C312.43 211.57 313.77 211.97 315.10 212.36 C316.43 212.75 317.77 213.13 319.10 213.51 C320.43 213.88 321.77 214.25 323.10 214.61 C324.43 214.98 325.77 215.33 327.10 215.68 C328.43 216.03 329.77 216.37 331.10 216.71 C332.43 217.04 333.77 217.38 335.10 217.70 C336.43 218.02 337.77 218.34 339.10 218.66 C340.43 218.97 341.77 219.28 343.10 219.58 C344.43 219.88 345.77 220.18 347.10 220.48 C348.43 220.77 349.77 221.06 351.10 221.34 C352.43 221.63 353.77 221.91 355.10 222.18 C356.43 222.46 357.77 222.73 359.10 223.00 C360.43 223.26 361.77 223.53 363.10 223.79 C364.43 224.05 365.77 224.31 367.10 224.56 C368.43 224.82 369.77 225.07 371.10 225.31 C372.43 225.56 373.77 225.81 375.10 226.05 C376.43 226.29 377.77 226.53 379.10 226.77 C380.43 227.00 381.77 227.24 383.10 227.47 C384.43 227.70 385.77 227.93 387.10 228.15 C388.43 228.38 389.77 228.60 391.10 228.83 C392.43 229.05 393.77 229.26 395.10 229.48 C396.43 229.70 397.77 229.91 399.10 230.12 C400.43 230.33 401.77 230.54 403.10 230.74 C404.43 230.95 405.77 231.15 407.10 231.35 C408.43 231.55 409.77 231.75 411.10 231.94 C412.43 232.14 413.77 232.33 415.10 232.52 C416.43 232.70 417.77 232.89 419.10 233.07 C420.43 233.25 421.77 233.43 423.10 233.60 C424.43 233.78 425.77 233.95 427.10 234.12 C428.43 234.28 429.77 234.45 431.10 234.61 C432.43 234.77 433.77 234.92 435.10 235.07 C436.43 235.23 437.77 235.38 439.10 235.52 C440.43 235.66 441.77 235.81 443.10 235.94 C444.43 236.08 445.77 236.21 447.10 236.34 C448.43 236.47 449.77 236.60 451.10 236.72 C452.43 236.84 453.77 236.96 455.10 237.08 C456.43 237.19 457.77 237.30 459.10 237.41 C460.43 237.52 461.77 237.63 463.10 237.73 C464.43 237.83 465.77 237.93 467.10 238.02 C468.43 238.12 469.77 238.21 471.10 238.30 C472.43 238.39 473.77 238.48 475.10 238.56 C476.43 238.64 477.77 238.73 479.10 238.81 C480.43 238.89 481.77 238.96 483.10 239.04 C484.43 239.11 485.77 239.19 487.10 239.26 C488.43 239.33 489.77 239.40 491.10 239.47 C492.43 239.54 493.77 239.61 495.10 239.68 C496.43 239.75 497.77 239.81 499.10 239.88 C500.43 239.95 501.77 240.01 503.10 240.08 C504.43 240.15 505.77 240.21 507.10 240.28 C508.43 240.35 509.77 240.42 511.10 240.49 C512.43 240.56 513.77 240.63 515.10 240.70 C516.43 240.78 517.77 240.85 519.10 240.93 C520.43 241.01 521.77 241.09 523.10 241.18 C524.43 241.26 525.77 241.35 527.10 241.44 C528.43 241.53 530.13 241.66 531.10 241.73 C532.07 241.80 532.60 241.84 532.90 241.86" stroke="#0a74de" stroke-width="3.3" stroke-dasharray="9.9 9.4" stroke-dashoffset="0.3"/>
</g>
<g stroke="#000" stroke-width="1.9" fill="none">
<rect x="51.15" y="9.35" width="481.75" height="240.75"/>
<path d="M50.90 250.1 v-4.6 M50.90 9.35 v5.5 M77.67 250.1 v-2.6 M77.67 9.35 v3.5 M104.45 250.1 v-2.6 M104.45 9.35 v3.5 M131.23 250.1 v-2.6 M131.23 9.35 v3.5 M158.00 250.1 v-4.6 M158.00 9.35 v5.5 M184.78 250.1 v-2.6 M184.78 9.35 v3.5 M211.55 250.1 v-2.6 M211.55 9.35 v3.5 M238.33 250.1 v-2.6 M238.33 9.35 v3.5 M265.10 250.1 v-4.6 M265.10 9.35 v5.5 M291.88 250.1 v-2.6 M291.88 9.35 v3.5 M318.65 250.1 v-2.6 M318.65 9.35 v3.5 M345.43 250.1 v-2.6 M345.43 9.35 v3.5 M372.20 250.1 v-4.6 M372.20 9.35 v5.5 M398.97 250.1 v-2.6 M398.97 9.35 v3.5 M425.75 250.1 v-2.6 M425.75 9.35 v3.5 M452.52 250.1 v-2.6 M452.52 9.35 v3.5 M479.30 250.1 v-4.6 M479.30 9.35 v5.5 M506.08 250.1 v-2.6 M506.08 9.35 v3.5 M532.85 250.1 v-2.6 M532.85 9.35 v3.5 M51.15 249.00 h4.6 M532.9 249.00 h-4.6 M51.15 238.59 h2.6 M532.9 238.59 h-2.6 M51.15 228.17 h2.6 M532.9 228.17 h-2.6 M51.15 217.75 h2.6 M532.9 217.75 h-2.6 M51.15 207.34 h2.6 M532.9 207.34 h-2.6 M51.15 196.93 h4.6 M532.9 196.93 h-4.6 M51.15 186.51 h2.6 M532.9 186.51 h-2.6 M51.15 176.09 h2.6 M532.9 176.09 h-2.6 M51.15 165.68 h2.6 M532.9 165.68 h-2.6 M51.15 155.26 h2.6 M532.9 155.26 h-2.6 M51.15 144.85 h4.6 M532.9 144.85 h-4.6 M51.15 134.44 h2.6 M532.9 134.44 h-2.6 M51.15 124.02 h2.6 M532.9 124.02 h-2.6 M51.15 113.60 h2.6 M532.9 113.60 h-2.6 M51.15 103.19 h2.6 M532.9 103.19 h-2.6 M51.15 92.77 h4.6 M532.9 92.77 h-4.6 M51.15 82.36 h2.6 M532.9 82.36 h-2.6 M51.15 71.94 h2.6 M532.9 71.94 h-2.6 M51.15 61.53 h2.6 M532.9 61.53 h-2.6 M51.15 51.11 h2.6 M532.9 51.11 h-2.6 M51.15 40.70 h4.6 M532.9 40.70 h-4.6 M51.15 30.28 h2.6 M532.9 30.28 h-2.6 M51.15 19.87 h2.6 M532.9 19.87 h-2.6 M51.15 9.45 h2.6 M532.9 9.45 h-2.6 " stroke-width="2.05"/>
</g>
<g class="sans" fill="#000">
<text x="48.55" y="254.80" text-anchor="end">0.0</text>
<text x="48.55" y="202.73" text-anchor="end">0.5</text>
<text x="48.55" y="150.65" text-anchor="end">1.0</text>
<text x="48.55" y="98.57" text-anchor="end">1.5</text>
<text x="48.55" y="46.50" text-anchor="end">2.0</text>
<text x="51.30" y="267.6" text-anchor="middle">0.0</text>
<text x="158.40" y="267.6" text-anchor="middle">0.2</text>
<text x="265.50" y="267.6" text-anchor="middle">0.4</text>
<text x="372.60" y="267.6" text-anchor="middle">0.6</text>
<text x="479.70" y="267.6" text-anchor="middle">0.8</text>
</g>
<g fill="none">
<path d="M411.3 18.9H448.4" stroke="#500052" stroke-width="2"/>
<path d="M411.8 53.5H445.5" stroke="#00a800" stroke-width="2" stroke-dasharray="1.1 3.4 4.4 3.3"/>
<path d="M412.1 85.2H446" stroke="#c01430" stroke-width="2" stroke-dasharray="1 3.68"/>
<path d="M411.9 115.5H444.2" stroke="#0a74de" stroke-width="2.2" stroke-dasharray="6.6 6"/>
</g>
<g class="serif" fill="#000">
<text x="457.0" y="24.6" style="letter-spacing:0.18px">3−body</text>
<text x="457.3" y="58.9">q(qq)</text>
<text x="457.3" y="91.6">Kelly</text>
<text x="457.3" y="121.2">Ye</text>
</g>
</svg>
</body></html>
